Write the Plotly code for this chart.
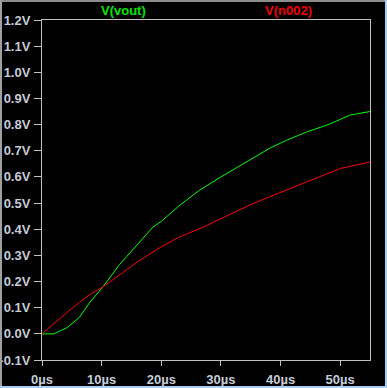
import plotly.graph_objects as go

# Time (µs) and voltages (V)
t_vout = [0, 2, 4.3, 6.3, 8, 10.2, 13, 15.5, 18.6, 20, 23, 26.4, 30, 34.8, 38.2, 41, 44.4, 48, 51.6, 53, 55]
v_vout = [0, 0.0, 0.025, 0.064, 0.12, 0.179, 0.265, 0.33, 0.408, 0.43, 0.49, 0.549, 0.60, 0.664, 0.71, 0.74, 0.772, 0.80, 0.836, 0.842, 0.85]

t_n002 = [0, 2, 4, 6.3, 8, 10.2, 13, 16, 19.7, 23, 27, 31, 34.8, 38.8, 44.4, 50, 55]
v_n002 = [0, 0.04, 0.078, 0.121, 0.15, 0.179, 0.227, 0.275, 0.329, 0.37, 0.408, 0.45, 0.492, 0.530, 0.581, 0.632, 0.657]

x_tickvals = [0, 10, 20, 30, 40, 50]
x_ticktext = ["0µs", "10µs", "20µs", "30µs", "40µs", "50µs"]
y_tickvals = [-0.1, 0.0, 0.1, 0.2, 0.3, 0.4, 0.5, 0.6, 0.7, 0.8, 0.9, 1.0, 1.1, 1.2]
y_ticktext = ["-0.1V", "0.0V", "0.1V", "0.2V", "0.3V", "0.4V", "0.5V", "0.6V", "0.7V", "0.8V", "0.9V", "1.0V", "1.1V", "1.2V"]

W, H = 387, 388
ML, MR, MT, MB = 42, 17, 20, 28
PW, PH = W - ML - MR, H - MT - MB

def px(x):
    return (x - ML) / PW

def py(y):
    return (H - MB - y) / PH

fig = go.Figure()
fig.add_trace(go.Scatter(x=t_vout, y=v_vout, mode="lines", line=dict(color="#00ff00", width=1), name="V(vout)"))
fig.add_trace(go.Scatter(x=t_n002, y=v_n002, mode="lines", line=dict(color="#ff0000", width=1), name="V(n002)"))

tickfont = dict(family="Liberation Sans, Arial, sans-serif", size=13, color="#c4ccd8", weight="bold")

fig.update_xaxes(range=[0, 55], tickvals=x_tickvals, ticktext=x_ticktext, showgrid=False, zeroline=False,
                 showline=True, mirror=True, linecolor="#c0c0c0", linewidth=1, automargin=False,
                 ticks="outside", ticklen=5, tickcolor="#c0c0c0", tickfont=tickfont, ticklabelstandoff=2)
fig.update_yaxes(range=[-0.1, 1.2], tickvals=y_tickvals, ticktext=y_ticktext, showgrid=False, zeroline=False,
                 showline=True, mirror=True, linecolor="#c0c0c0", linewidth=1, automargin=False,
                 ticks="outside", ticklen=7, tickcolor="#c0c0c0", tickfont=tickfont, ticklabelstandoff=1)

titlefont = dict(family="Liberation Sans, Arial, sans-serif", size=13, weight="bold")
fig.add_annotation(text="V(vout)", x=px(123), y=py(10.5), xref="paper", yref="paper", showarrow=False,
                   xanchor="center", yanchor="middle", font=dict(color="#00e600", **titlefont))
fig.add_annotation(text="V(n002)", x=px(288.5), y=py(10.5), xref="paper", yref="paper", showarrow=False,
                   xanchor="center", yanchor="middle", font=dict(color="#f00000", **titlefont))

# window border
borders = [
    (0, 0, W, 2, "#8c8c8c"),
    (0, 0, 2, H, "#a0a0a0"),
    (W - 2, 0, W, H, "#a8cdf0"),
    (0, H - 2, W, H, "#a8cdf0"),
]
for x0, y0, x1, y1, c in borders:
    fig.add_shape(type="rect", xref="paper", yref="paper", x0=px(x0), x1=px(x1), y0=py(y0), y1=py(y1),
                  fillcolor=c, line=dict(width=0), layer="above")

fig.update_layout(width=W, height=H, margin=dict(l=ML, r=MR, t=MT, b=MB, autoexpand=False),
                  paper_bgcolor="black", plot_bgcolor="black", showlegend=False)

fig.write_html("out.html", config={"displayModeBar": False, "staticPlot": True},
               post_script="document.body.style.margin='0';document.body.style.overflow='hidden';document.body.style.background='black';")
